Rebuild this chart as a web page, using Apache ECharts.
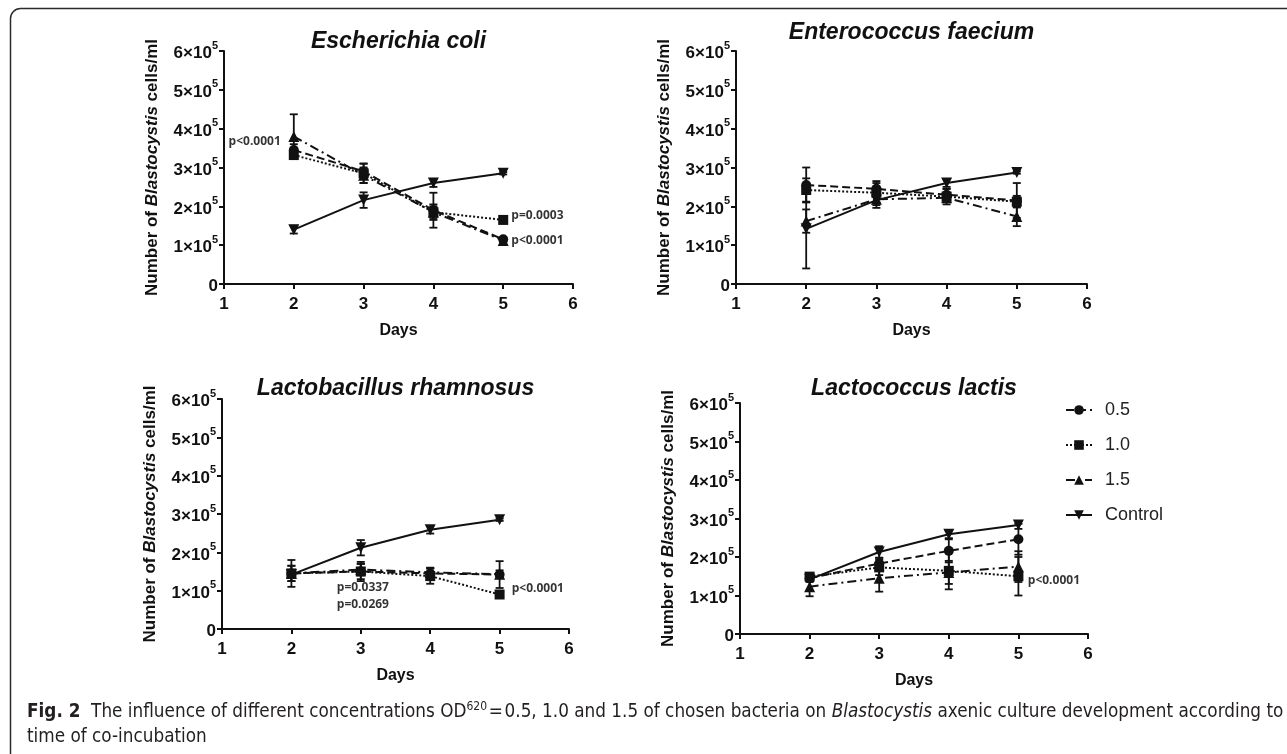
<!DOCTYPE html>
<html>
<head>
<meta charset="utf-8">
<script src="https://cdn.jsdelivr.net/npm/echarts@6/dist/echarts.min.js"></script>
<style>
  html, body { margin: 0; padding: 0; background: #fff; }
  #chart { width: 1287px; height: 754px; }
  #caption {
    position: absolute; left: 27px; top: 698px; width: 1270px;
    font-family: "Liberation Sans Narrow", "DejaVu Sans Condensed", sans-serif;
    font-size: 18.75px; line-height: 25px; color: #231f20; white-space: nowrap;
  }
  #caption sup { font-size: 12px; line-height: 0; }
</style>
</head>
<body>
<div id="chart"></div>
<div id="caption"><b>Fig. 2</b>&nbsp; The influence of different concentrations OD<sup>620</sup>&#8202;=&#8202;0.5, 1.0 and 1.5 of chosen bacteria on <i>Blastocystis</i> axenic culture development according to<br>time of co-incubation</div>
<script>
// days of co-incubation
const days = [2, 3, 4, 5];
// OD620 concentrations + control
const seriesNames = ['0.5', '1.0', '1.5', 'Control'];
const panelTitles = ['Escherichia coli', 'Enterococcus faecium', 'Lactobacillus rhamnosus', 'Lactococcus lactis'];

// values in 10^5 cells/ml, rows follow seriesNames
const ecoliMean = [[3.45, 2.9, 1.9, 1.15], [3.32, 2.85, 1.85, 1.65], [3.8, 2.8, 1.85, 1.12], [1.4, 2.16, 2.6, 2.85]];
const ecoliErr = [[0.15, 0.2, 0.45, 0.05], [0.1, 0.25, 0.2, 0.03], [0.57, 0.2, 0.15, 0.05], [0.1, 0.2, 0.1, 0.03]];
const faeciumMean = [[2.55, 2.45, 2.3, 2.15], [2.42, 2.35, 2.25, 2.12], [1.62, 2.18, 2.22, 1.74], [1.42, 2.16, 2.6, 2.87]];
const faeciumErr = [[0.45, 0.2, 0.15, 0.45], [0.3, 0.25, 0.2, 0.15], [0.3, 0.15, 0.1, 0.25], [1.02, 0.2, 0.1, 0.03]];
const rhamnosusMean = [[1.45, 1.5, 1.45, 1.42], [1.45, 1.5, 1.38, 0.9], [1.45, 1.55, 1.48, 1.43], [1.42, 2.12, 2.59, 2.85]];
const rhamnosusErr = [[0.35, 0.2, 0.15, 0.35], [0.2, 0.25, 0.2, 0.05], [0.2, 0.15, 0.1, 0.1], [0.05, 0.2, 0.1, 0.03]];
const lactisMean = [[1.45, 1.83, 2.16, 2.46], [1.49, 1.73, 1.64, 1.5], [1.23, 1.45, 1.6, 1.75], [1.42, 2.13, 2.59, 2.83]];
const lactisErr = [[0.1, 0.15, 0.3, 0.4], [0.05, 0.2, 0.48, 0.5], [0.25, 0.35, 0.3, 0.4], [0.05, 0.15, 0.1, 0.1]];

// p-value notes: [panel, day, value, text]
const pNotes = [
  [0, 1.44, 3.66, 'p<0.0001'],
  [0, 5.49, 1.75, 'p=0.0003'],
  [0, 5.49, 1.11, 'p<0.0001'],
  [2, 3.03, 1.08, 'p=0.0337'],
  [2, 3.03, 0.63, 'p=0.0269'],
  [2, 5.55, 1.05, 'p<0.0001'],
  [3, 5.51, 1.38, 'p<0.0001']
];

const panelMeans = [ecoliMean, faeciumMean, rhamnosusMean, lactisMean];
const panelErrs = [ecoliErr, faeciumErr, rhamnosusErr, lactisErr];

const FONT = '"Liberation Sans", Arial, sans-serif';
const INK = '#111';
const grids = [
  {left: 224, top: 51, width: 349, height: 233},
  {left: 736, top: 51, width: 351, height: 233},
  {left: 222, top: 399, width: 347, height: 230},
  {left: 740, top: 403, width: 348, height: 231}
];
const symbols = ['circle', 'rect', 'triangle', 'triangle'];
const symbolSizes = [10, 10, 11, 11];
const symbolRotates = [0, 0, 0, 180];
const lineTypes = ['dashed', 'dotted', [9, 4, 2, 4], 'solid'];

function renderErr(params, api) {
  const x = api.value(0);
  const lo = api.coord([x, api.value(1)]);
  const hi = api.coord([x, api.value(2)]);
  const w = 4;
  const style = {stroke: INK, lineWidth: 1.8};
  return {
    type: 'group',
    children: [
      {type: 'line', shape: {x1: lo[0], y1: lo[1], x2: hi[0], y2: hi[1]}, style},
      {type: 'line', shape: {x1: lo[0] - w, y1: lo[1], x2: lo[0] + w, y2: lo[1]}, style},
      {type: 'line', shape: {x1: hi[0] - w, y1: hi[1], x2: hi[0] + w, y2: hi[1]}, style}
    ]
  };
}

const xAxes = grids.map((g, i) => ({
  type: 'value', gridIndex: i, min: 1, max: 6, interval: 1,
  axisLine: {show: true, lineStyle: {color: INK, width: 2}},
  axisTick: {show: true, length: 5, lineStyle: {color: INK, width: 2}},
  axisLabel: {color: INK, fontFamily: FONT, fontWeight: 'bold', fontSize: 17, margin: 12},
  splitLine: {show: false},
  name: 'Days', nameLocation: 'middle', nameGap: 39,
  nameTextStyle: {color: INK, fontFamily: FONT, fontWeight: 'bold', fontSize: 16}
}));

const yAxes = grids.map((g, i) => ({
  type: 'value', gridIndex: i, min: 0, max: 6, interval: 1,
  axisLine: {show: true, lineStyle: {color: INK, width: 2}},
  axisTick: {show: true, length: 5, lineStyle: {color: INK, width: 2}},
  axisLabel: {
    color: INK, margin: 6,
    formatter: v => v === 0 ? '{b|0}' : '{b|' + v + '×10}{s|5}',
    rich: {
      b: {fontFamily: FONT, fontWeight: 'bold', fontSize: 17, color: INK, lineHeight: 22, verticalAlign: 'bottom'},
      s: {fontFamily: FONT, fontWeight: 'bold', fontSize: 11, color: INK, lineHeight: 22, verticalAlign: 'top', padding: [0, 0, 7, 0]}
    }
  },
  splitLine: {show: false},
  name: 'Number of {i|Blastocystis} cells/ml', nameLocation: 'middle', nameGap: 63,
  nameTextStyle: {
    color: INK, fontFamily: FONT, fontWeight: 'bold', fontSize: 17,
    rich: {i: {fontFamily: FONT, fontWeight: 'bold', fontStyle: 'italic', fontSize: 17, color: INK}}
  }
}));

const series = [];
panelMeans.forEach((means, g) => {
  means.forEach((vals, s) => {
    const errs = panelErrs[g][s];
    series.push({
      type: 'custom', xAxisIndex: g, yAxisIndex: g, silent: true,
      renderItem: renderErr, encode: {x: 0, y: [1, 2]}, z: 2,
      data: days.map((d, k) => [d, vals[k] - errs[k], vals[k] + errs[k]])
    });
    series.push({
      name: seriesNames[s], type: 'line', xAxisIndex: g, yAxisIndex: g, z: 3,
      data: days.map((d, k) => [d, vals[k]]),
      symbol: symbols[s], symbolSize: symbolSizes[s], symbolRotate: symbolRotates[s],
      itemStyle: {color: INK},
      lineStyle: {color: INK, width: 2, type: lineTypes[s]},
      animation: false
    });
  });
});
pNotes.forEach(n => {
  series.push({
    type: 'scatter', xAxisIndex: n[0], yAxisIndex: n[0], silent: true, z: 5,
    symbolSize: 1, itemStyle: {color: 'rgba(0,0,0,0)'},
    data: [[n[1], n[2]]],
    label: {show: true, position: 'inside', formatter: n[3], color: '#000',
      fontFamily: '"Open Sans", "Noto Sans", sans-serif', fontWeight: 'bold', fontSize: 12}
  });
});

const titleCenters = [[398.5, 42], [911.5, 33], [395.5, 389], [914, 389]];
const graphics = titleCenters.map((c, i) => ({
  type: 'text', x: c[0], y: c[1], silent: true,
  style: {text: panelTitles[i], fill: INK, font: 'italic bold 23px ' + FONT, textAlign: 'center', textVerticalAlign: 'middle'}
}));
graphics.push({
  type: 'rect', silent: true,
  shape: {x: 10.5, y: 8.5, width: 1400, height: 900, r: [10, 0, 0, 0]},
  style: {fill: 'none', stroke: '#2b2b2b', lineWidth: 1.5}
});

const chart = echarts.init(document.getElementById('chart'), null, {renderer: 'canvas'});
chart.setOption({
  animation: false,
  backgroundColor: '#fff',
  grid: grids,
  xAxis: xAxes,
  yAxis: yAxes,
  legend: {
    data: seriesNames, orient: 'vertical', left: 1060, top: 396,
    itemWidth: 26, itemHeight: 12, itemGap: 17,
    textStyle: {fontFamily: FONT, fontSize: 18, color: '#222', padding: [0, 0, 0, 8]},
    selectedMode: false
  },
  graphic: graphics,
  series: series
});
</script>
</body>
</html>
